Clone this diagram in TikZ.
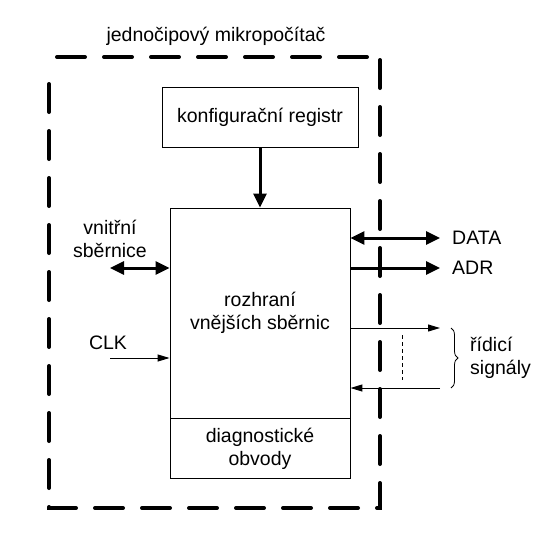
\documentclass[tikz,border=0pt]{standalone}
\usepackage{fontspec}
\setmainfont{Liberation Sans}
\usetikzlibrary{arrows.meta,decorations.pathreplacing}
\begin{document}
\begin{tikzpicture}[x=1pt,y=-1pt,
 lbl/.style={inner sep=0pt, font=\fontsize{19.5}{23}\selectfont, align=center},
 blk/.style={draw, line width=0.9pt, inner sep=0pt},
 bus/.style={line width=3pt, -{Triangle[length=14pt,width=13pt]}},
 bibus/.style={line width=3pt, {Triangle[length=14pt,width=13pt]}-{Triangle[length=14pt,width=13pt]}},
 sig/.style={line width=1pt, -{Triangle[length=12pt,width=7pt]}},
 frame/.style={line width=4pt, line cap=round, dash pattern=on 28pt off 19pt}]
\useasboundingbox (0,0) rectangle (555,547);
% frame
\coordinate (f1) at (57,57);
\coordinate (f2) at (367,57);
\coordinate (f3) at (380,60);
\coordinate (f4) at (380,508);
\coordinate (f5) at (49,508);
\coordinate (f6) at (49,68);
\draw[frame] (f1) -- (f2);
\draw[frame] (f3) -- (f4) -- (f5) -- (f6);
\node[lbl] (title) at (216,36) {jednočipový mikropočítač};
% blocks
\node[blk, lbl, minimum width=196pt, minimum height=60pt] (cfg) at (260,117) {konfigurační registr};
\node[blk, minimum width=180pt, minimum height=270pt] (main) at (260,343) {};
\coordinate (dl) at (170,418);
\coordinate (dr) at (350,418);
\draw[line width=0.9pt] (dl) -- (dr);
\node[lbl] (rozh) at (260,313) {rozhraní\\vnějších sběrnic};
\node[lbl] (diag) at (260,449) {diagnostické\\obvody};
% connectors
\draw[bus] (cfg.south) -- (main.north);
\coordinate (dataE) at (440,238);
\draw[bibus] (main.east |- dataE) -- (dataE);
\coordinate (adrE) at (440,268);
\draw[bus] (main.east |- adrE) -- (adrE);
\coordinate (c1) at (440,328);
\draw[sig] (main.east |- c1) -- (c1);
\coordinate (c2) at (440,388);
\draw[sig] (c2) -- (main.east |- c2);
\coordinate (busW) at (110,268);
\draw[bibus] (busW) -- (main.west |- busW);
\coordinate (clkW) at (110,358);
\draw[sig] (clkW) -- (main.west |- clkW);
\coordinate (dt) at (402,335);
\coordinate (db) at (402,380);
\draw[line width=0.8pt, dash pattern=on 4pt off 3pt] (dt) -- (db);
\coordinate (bt) at (451,328);
\coordinate (bb) at (451,388);
\draw[line width=0.8pt, decorate, decoration={brace, amplitude=7pt}] (bt) -- (bb);
% labels
\node[lbl, anchor=west] (data) at (452,238) {DATA};
\node[lbl, anchor=west] (adr) at (452,268) {ADR};
\node[lbl, align=left, anchor=west] (ridici) at (470,358) {řídicí\\signály};
\node[lbl] (vnitrni) at (110,239) {vnitřní\\sběrnice};
\node[lbl] (clk) at (108,343) {CLK};
\end{tikzpicture}
\end{document}
